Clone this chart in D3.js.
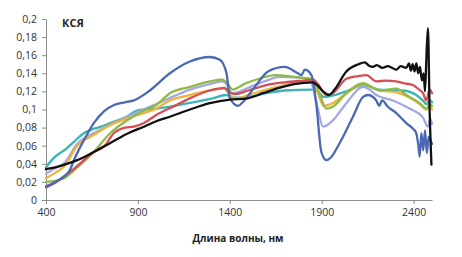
<!DOCTYPE html>
<html>
<head>
<meta charset="utf-8">
<script src="https://cdn.jsdelivr.net/npm/d3@7"></script>
<style>
  body { margin: 0; background: #fff; }
  svg { display: block; }
</style>
</head>
<body>
<svg id="chart"></svg>
<script>
// spectra: [wavelength nm, value]
const teal = [[400,.036],[440,.046],[470,.051],[500,.055],[550,.064],[600,.073],[650,.078],[700,.081],[750,.085],[830,.091],[900,.099],[1000,.101],[1100,.104],[1200,.108],[1300,.112],[1380,.116],[1420,.113],[1500,.114],[1600,.118],[1700,.121],[1850,.122],[1880,.12],[1910,.114],[1950,.115],[2034,.12],[2125,.127],[2215,.122],[2342,.121],[2414,.116],[2450,.11],[2470,.106],[2490,.11],[2500,.108]];
const lavender = [[400,.029],[450,.035],[500,.041],[570,.062],[660,.074],[750,.083],[840,.092],[930,.1],[1000,.106],[1100,.115],[1183,.122],[1290,.128],[1360,.131],[1385,.127],[1410,.118],[1440,.119],[1500,.124],[1600,.132],[1672,.136],[1835,.134],[1860,.118],[1880,.1],[1907,.081],[1961,.088],[2034,.107],[2125,.125],[2160,.122],[2197,.116],[2288,.11],[2378,.101],[2451,.091],[2478,.081],[2490,.09],[2500,.084]];
const orange = [[400,.024],[450,.03],[498,.037],[570,.06],[660,.072],[750,.083],[840,.09],[930,.096],[1000,.101],[1074,.11],[1183,.116],[1290,.121],[1370,.123],[1400,.116],[1430,.112],[1500,.116],[1600,.122],[1700,.127],[1800,.13],[1850,.131],[1880,.118],[1910,.104],[1950,.106],[2034,.118],[2125,.128],[2215,.121],[2306,.119],[2380,.113],[2433,.106],[2470,.1],[2490,.104],[2500,.1]];
const green = [[400,.02],[450,.021],[498,.024],[570,.036],[660,.053],[750,.074],[842,.088],[933,.099],[1000,.105],[1074,.118],[1183,.125],[1291,.131],[1360,.133],[1390,.128],[1415,.122],[1487,.129],[1560,.134],[1645,.138],[1750,.136],[1853,.133],[1890,.116],[1925,.101],[1960,.103],[2034,.118],[2125,.129],[2215,.121],[2306,.123],[2360,.116],[2433,.107],[2469,.101],[2490,.106],[2500,.104]];
const red = [[400,.014],[450,.019],[498,.026],[550,.034],[606,.044],[660,.053],[715,.059],[770,.074],[830,.08],[878,.081],[933,.085],[1000,.094],[1100,.104],[1200,.114],[1290,.121],[1370,.124],[1400,.119],[1430,.117],[1500,.121],[1600,.127],[1700,.13],[1800,.132],[1853,.133],[1880,.128],[1925,.116],[1960,.118],[2034,.134],[2100,.137],[2143,.138],[2197,.131],[2250,.132],[2306,.131],[2350,.129],[2396,.127],[2430,.122],[2451,.118],[2469,.11],[2487,.122],[2500,.118]];
const blue = [[400,.015],[450,.02],[498,.026],[530,.033],[552,.044],[606,.066],[660,.085],[715,.098],[770,.105],[830,.108],[878,.11],[965,.121],[1074,.14],[1183,.153],[1291,.158],[1346,.155],[1382,.14],[1400,.113],[1445,.104],[1470,.108],[1536,.125],[1608,.142],[1699,.147],[1770,.14],[1790,.138],[1808,.144],[1844,.138],[1871,.105],[1898,.053],[1925,.044],[1950,.047],[1998,.063],[2070,.092],[2125,.114],[2152,.116],[2197,.11],[2213,.104],[2228,.11],[2260,.103],[2306,.096],[2360,.085],[2400,.078],[2414,.074],[2426,.06],[2433,.048],[2442,.074],[2452,.055],[2462,.077],[2472,.052],[2482,.07],[2492,.066],[2500,.062]];
const black = [[400,.034],[450,.036],[500,.039],[570,.044],[650,.052],[750,.063],[850,.074],[933,.081],[1000,.087],[1074,.092],[1183,.1],[1291,.107],[1400,.111],[1490,.112],[1580,.118],[1654,.123],[1750,.128],[1850,.13],[1880,.126],[1907,.12],[1940,.116],[1970,.122],[2034,.142],[2100,.15],[2134,.152],[2160,.148],[2178,.147],[2200,.149],[2230,.146],[2260,.148],[2306,.144],[2330,.148],[2360,.146],[2375,.151],[2385,.143],[2395,.15],[2405,.142],[2415,.151],[2425,.14],[2435,.147],[2445,.132],[2455,.14],[2462,.12],[2470,.16],[2478,.19],[2487,.1],[2497,.039]];

const series = [
  {name: "teal", color: "#3db3b8", data: teal},
  {name: "lavender", color: "#a2a8e4", data: lavender},
  {name: "orange", color: "#f0b03c", data: orange},
  {name: "green", color: "#8fba45", data: green},
  {name: "red", color: "#d44f55", data: red},
  {name: "blue", color: "#4b68b4", data: blue},
  {name: "black", color: "#111111", data: black}
];

const xTicks = [400, 900, 1400, 1900, 2400];
const yTicks = [0, 0.02, 0.04, 0.06, 0.08, 0.1, 0.12, 0.14, 0.16, 0.18, 0.2];
const title = "КСЯ";
const xLabel = "Длина волны, нм";

let width = 462;
let height = 257;
let marginLeft = 46;
let marginTop = 19;
let plotRight = 432;
let plotBottom = 200;
let axisColor = "#8c8c8c";
let font = "'Open Sans', 'Noto Sans', sans-serif";

const fmtY = d => String(d).replace(".", ",");

const xScale = d3.scaleLinear([400, 2500], [marginLeft, plotRight]);
const yScale = d3.scaleLinear([0, 0.2], [plotBottom, marginTop]);

const svg = d3.select("#chart")
  .attr("width", width)
  .attr("height", height)
  .attr("viewBox", [0, 0, width, height]);

// x axis
svg.append("g")
  .attr("transform", `translate(0,${plotBottom})`)
  .call(d3.axisBottom(xScale).tickValues(xTicks).tickFormat(d3.format("d")).tickSize(4).tickPadding(5).tickSizeOuter(0))
  .call(g => g.selectAll("line, path").attr("stroke", axisColor))
  .call(g => g.selectAll("text").attr("fill", "#333").attr("font-size", 10.5).attr("font-family", font));

// y axis
svg.append("g")
  .attr("transform", `translate(${marginLeft},0)`)
  .call(d3.axisLeft(yScale).tickValues(yTicks).tickFormat(fmtY).tickSize(4).tickPadding(5).tickSizeOuter(0))
  .call(g => g.selectAll("line, path").attr("stroke", axisColor))
  .call(g => g.selectAll("text").attr("fill", "#333").attr("font-size", 10.5).attr("font-family", font));

const line = d3.line()
  .x(d => xScale(d[0]))
  .y(d => yScale(d[1]))
  .curve(d3.curveMonotoneX);

svg.append("g")
  .attr("fill", "none")
  .attr("stroke-width", 2.3)
  .attr("stroke-linejoin", "round")
  .attr("stroke-linecap", "round")
  .selectAll("path")
  .data(series)
  .join("path")
  .attr("stroke", d => d.color)
  .attr("d", d => line(d.data));

svg.append("text")
  .attr("x", 62)
  .attr("y", 27)
  .attr("font-family", font)
  .attr("font-size", 11)
  .attr("font-weight", "bold")
  .attr("fill", "#222")
  .text(title);

svg.append("text")
  .attr("x", 238)
  .attr("y", 242)
  .attr("text-anchor", "middle")
  .attr("font-family", font)
  .attr("font-size", 10)
  .attr("font-weight", "bold")
  .attr("fill", "#222")
  .text(xLabel);
</script>
</body>
</html>
